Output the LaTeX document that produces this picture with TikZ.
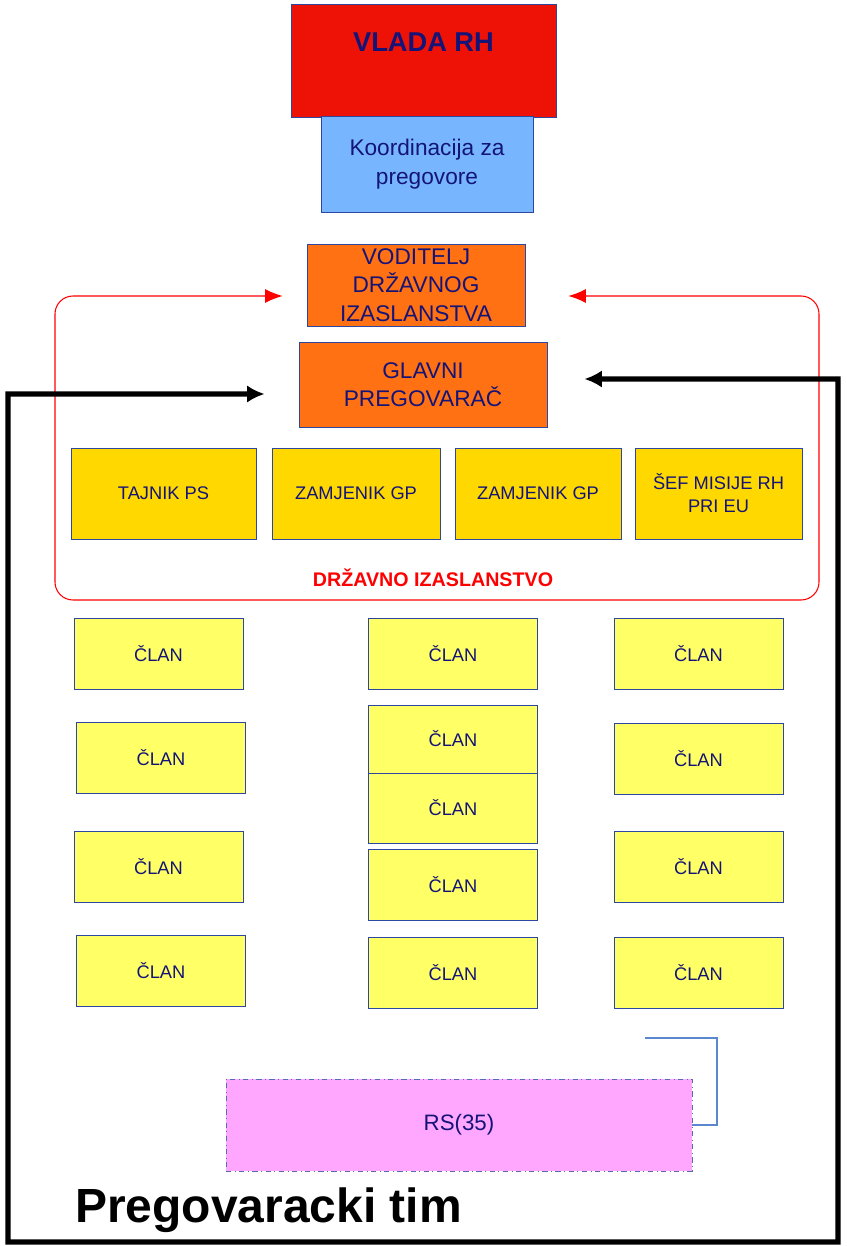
\documentclass[tikz,border=0pt]{standalone}
\usepackage{fontspec}
\setmainfont{Liberation Sans}
\usetikzlibrary{arrows.meta,calc}
\definecolor{vladared}{RGB}{238,18,6}
\definecolor{koordblue}{RGB}{119,182,255}
\definecolor{voditorange}{RGB}{255,113,19}
\definecolor{gpgold}{RGB}{255,216,0}
\definecolor{clanyellow}{RGB}{255,255,102}
\definecolor{rspink}{RGB}{255,166,255}
\definecolor{navy}{RGB}{20,20,120}
\definecolor{boxline}{RGB}{45,70,160}
\definecolor{linkblue}{RGB}{90,135,205}

\begin{document}
\begin{tikzpicture}[x=0.02cm,y=-0.02cm]

\tikzstyle{box} = [draw=boxline, line width=0.5pt, inner sep=0pt,
    text=navy, align=center, font=\fontsize{10.4}{13}\selectfont]
\tikzstyle{vlada} = [box, fill=vladared, minimum width=5.30cm, minimum height=2.26cm]
\tikzstyle{koord} = [box, fill=koordblue, minimum width=4.24cm, minimum height=1.92cm,
    font=\fontsize{12.9}{16.4}\selectfont]
\tikzstyle{lead} = [box, fill=voditorange, font=\fontsize{12.9}{16.2}\selectfont]
\tikzstyle{gold} = [box, fill=gpgold, minimum height=1.82cm]
\tikzstyle{clan} = [box, fill=clanyellow, minimum width=3.38cm, minimum height=1.42cm]
\tikzstyle{rsbox} = [box, fill=rspink, draw=boxline!80, dash dot,
    minimum width=9.32cm, minimum height=1.84cm, font=\fontsize{12.7}{15}\selectfont]
\tikzstyle{redlink} = [draw=red, line width=0.6pt, rounded corners=0.36cm,
    {Latex[length=10pt,width=8pt]}-{Latex[length=10pt,width=8pt]}]
\tikzstyle{teamlink} = [draw=black, line width=3.1pt,
    {Latex[length=10pt,width=10pt]}-{Latex[length=10pt,width=10pt]}]

\useasboundingbox (0,0) rectangle (846,1246);

% =========================
% government and coordination
% =========================
\node[vlada] (vlada) at (423.5,60.5) {};
\node[text=navy, font=\fontsize{15.5}{18}\selectfont\bfseries] (vladaname) at (423.5,42) {VLADA RH};
\node[koord] (koord) at (427,164) {Koordinacija za\\pregovore};

% =========================
% head of delegation and chief negotiator
% =========================
\node[lead, minimum width=4.36cm, minimum height=1.64cm] (voditelj) at (416,285)
    {VODITELJ\\DRŽAVNOG\\IZASLANSTVA};
\node[lead, minimum width=4.96cm, minimum height=1.70cm] (glavni) at (423,384.5)
    {GLAVNI\\PREGOVARAČ};

% =========================
% state delegation - first row
% =========================
\node[gold, minimum width=3.70cm] (tajnik) at (163.5,493.5) {TAJNIK PS};
\node[gold, minimum width=3.36cm] (zamjenik1) at (356,493.5) {ZAMJENIK GP};
\node[gold, minimum width=3.32cm] (zamjenik2) at (538,493.5) {ZAMJENIK GP};
\node[gold, minimum width=3.34cm] (sef) at (718.5,493.5) {ŠEF MISIJE RH\\PRI EU};

\node[text=red, font=\fontsize{11.2}{13}\selectfont\bfseries] (izaslanstvo) at (433,578)
    {DRŽAVNO IZASLANSTVO};

% red frame round the delegation
\draw[redlink] ($(voditelj.west)+(-24,11)$) -- (55,296) -- (55,600)
    -- (819,600) -- (819,296) -- ($(voditelj.east)+(43,11)$);

% =========================
% members - left column
% =========================
\node[clan] (clanL1) at (158.5,653.5) {ČLAN};
\node[clan] (clanL2) at (161,757.5) {ČLAN};
\node[clan] (clanL3) at (158.5,866.5) {ČLAN};
\node[clan] (clanL4) at (161,970.5) {ČLAN};

% =========================
% members - middle column
% =========================
\node[clan] (clanM1) at (453,653.5) {ČLAN};
\node[clan, minimum height=1.36cm] (clanM2) at (453,739) {ČLAN};
\node[clan, minimum height=1.40cm] (clanM3) at (453,808) {ČLAN};
\node[clan] (clanM4) at (453,884.5) {ČLAN};
\node[clan] (clanM5) at (453,972.5) {ČLAN};

% =========================
% members - right column
% =========================
\node[clan] (clanR1) at (698.5,653.5) {ČLAN};
\node[clan] (clanR2) at (698.5,759) {ČLAN};
\node[clan] (clanR3) at (698.5,866.5) {ČLAN};
\node[clan] (clanR4) at (698.5,972.5) {ČLAN};

% =========================
% RS(35)
% =========================
\node[rsbox] (rs) at (459,1125) {RS(35)};
\coordinate (rsfree) at (645,1038);
\draw[linkblue, line width=1.2pt] (rsfree) -| ($(rs.east)+(25,0)$) -- (rs.east);

% negotiating team frame
\draw[teamlink] ($(glavni.west)+(-34,9.5)$) -- (8,394) -- (8,1242)
    -- (838,1242) -- (838,379) -- ($(glavni.east)+(37,-5.5)$);

\node[anchor=base west, font=\fontsize{27.3}{30}\selectfont\bfseries] (tim) at (69,1222)
    {Pregovaracki tim};

\end{tikzpicture}
\end{document}
